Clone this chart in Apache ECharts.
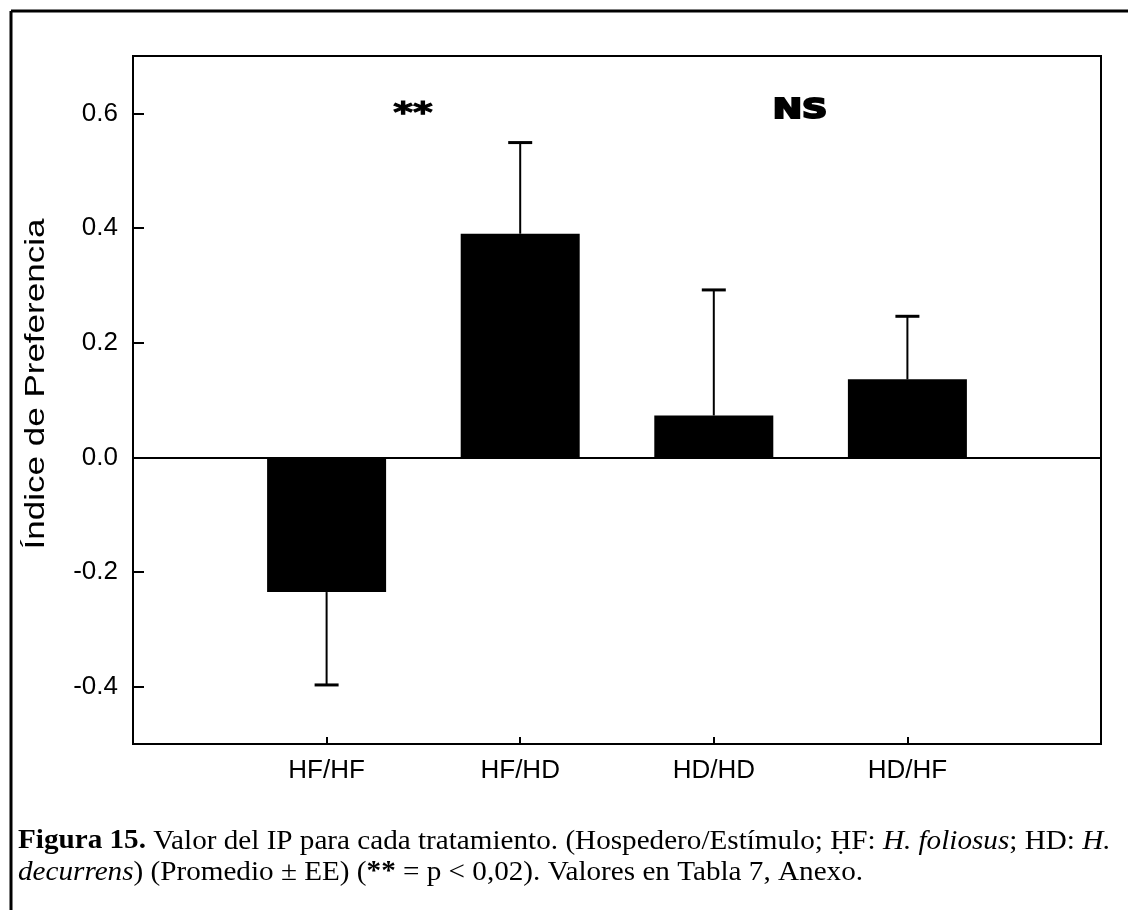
<!DOCTYPE html>
<html>
<head>
<meta charset="utf-8">
<script src="https://cdn.jsdelivr.net/npm/echarts@6/dist/echarts.min.js"></script>
<style>
  html, body { margin: 0; padding: 0; background: #fff; }
  #chart { width: 1128px; height: 910px; }
</style>
</head>
<body>
<div id="chart"></div>
<script>
// Treatments (Hospedero/Estímulo)
const categories = ['HF/HF', 'HF/HD', 'HD/HD', 'HD/HF'];
// Mean preference index per treatment
const means = [-0.235, 0.39, 0.073, 0.136];
// Standard error per treatment
const errors = [0.162, 0.159, 0.219, 0.11];
// Y-axis tick values
const yTicks = [-0.4, -0.2, 0.0, 0.2, 0.4, 0.6];
// Category positions on the x value axis
const xPositions = [1, 2, 3, 4];

const barData = means.map((m, i) => [xPositions[i], m]);
const errData = means.map((m, i) => [xPositions[i], m, errors[i]]);

const chart = echarts.init(document.getElementById('chart'), null, { renderer: 'canvas' });

const axisFont = 'Liberation Sans, Arial, sans-serif';
const serif = 'Liberation Serif, Times New Roman, serif';

// One-sided error bar with a cap, pointing away from zero
function renderError(params, api) {
  const x = api.value(0);
  const m = api.value(1);
  const e = api.value(2);
  const end = m >= 0 ? m + e : m - e;
  const p0 = api.coord([x, m]);
  const p1 = api.coord([x, end]);
  const half = 12;
  return {
    type: 'group',
    children: [
      { type: 'line', shape: { x1: p0[0], y1: p0[1], x2: p1[0], y2: p1[1] }, style: { stroke: '#000', lineWidth: 2 } },
      { type: 'line', shape: { x1: p1[0] - half, y1: p1[1], x2: p1[0] + half, y2: p1[1] }, style: { stroke: '#000', lineWidth: 3 } }
    ]
  };
}

const option = {
  backgroundColor: '#fff',
  animation: false,
  grid: {
    left: 133, top: 56, right: 27, bottom: 166,
    show: true, borderColor: '#000', borderWidth: 2, backgroundColor: 'transparent'
  },
  xAxis: {
    type: 'value',
    min: 0, max: 5,
    splitLine: { show: false },
    axisLine: { show: true, onZero: false, lineStyle: { color: '#000', width: 2 } },
    axisTick: { show: true, inside: true, length: 7, customValues: xPositions, lineStyle: { color: '#000', width: 2 } },
    axisLabel: {
      customValues: xPositions,
      formatter: v => categories[Math.round(v) - 1] || '',
      color: '#000', fontFamily: axisFont, fontSize: 26, margin: 14
    }
  },
  yAxis: {
    type: 'value',
    min: -0.5, max: 0.7,
    splitLine: { show: false },
    axisLine: { show: true, onZero: false, lineStyle: { color: '#000', width: 2 } },
    axisTick: { show: true, inside: true, length: 11, customValues: yTicks, lineStyle: { color: '#000', width: 2 } },
    axisLabel: {
      customValues: yTicks,
      formatter: v => v.toFixed(1),
      color: '#000', fontFamily: axisFont, fontSize: 26, margin: 15
    }
  },
  series: [
    {
      type: 'bar',
      data: barData,
      barWidth: 119,
      itemStyle: { color: '#000' },
      markLine: {
        silent: true,
        symbol: 'none',
        label: { show: false },
        lineStyle: { color: '#000', width: 2, type: 'solid' },
        data: [{ yAxis: 0 }]
      },
      z: 2
    },
    {
      type: 'custom',
      data: errData,
      renderItem: renderError,
      z: 3
    }
  ],
  graphic: [
    // figure frame (top and left edges)
    { type: 'line', shape: { x1: 11, y1: 11, x2: 1128, y2: 11 }, style: { stroke: '#000', lineWidth: 3 } },
    { type: 'line', shape: { x1: 11, y1: 11, x2: 11, y2: 910 }, style: { stroke: '#000', lineWidth: 3 } },
    // y-axis title
    {
      type: 'text', x: 36, y: 384, rotation: Math.PI / 2, scaleX: 1.25,
      style: { text: 'Índice de Preferencia', fontFamily: axisFont, fontSize: 28, fill: '#000', align: 'center', verticalAlign: 'middle' }
    },
    // significance marks
    {
      type: 'text', x: 413, y: 114, scaleX: 1.3,
      style: { text: '**', fontFamily: 'DejaVu Sans, sans-serif', fontWeight: 'bold', fontSize: 29, fill: '#000', stroke: '#000', lineWidth: 1, align: 'center', verticalAlign: 'middle' }
    },
    {
      type: 'text', x: 800, y: 111, scaleX: 1.3,
      style: { text: 'NS', fontFamily: 'DejaVu Sans, sans-serif', fontWeight: 'bold', fontSize: 27, fill: '#000', stroke: '#000', lineWidth: 2, align: 'center', verticalAlign: 'middle' }
    },
    // caption
    {
      type: 'text', x: 18, y: 826, scaleX: 1.08,
      style: {
        text: '{b|Figura 15.} Valor del IP para cada tratamiento. (Hospedero/Estímulo; ḤF: {i|H. foliosus}; HD: {i|H.}\n{i|decurrens}) (Promedio ± EE) ({b|**} = p < 0,02). Valores en Tabla 7, Anexo.',
        fontFamily: serif, fontSize: 27, lineHeight: 31, fill: '#000',
        align: 'left', verticalAlign: 'top',
        rich: {
          b: { fontFamily: serif, fontSize: 27, lineHeight: 31, fontWeight: 'bold', fill: '#000' },
          i: { fontFamily: serif, fontSize: 27, lineHeight: 31, fontStyle: 'italic', fill: '#000' }
        }
      }
    }
  ]
};

chart.setOption(option);
</script>
</body>
</html>
